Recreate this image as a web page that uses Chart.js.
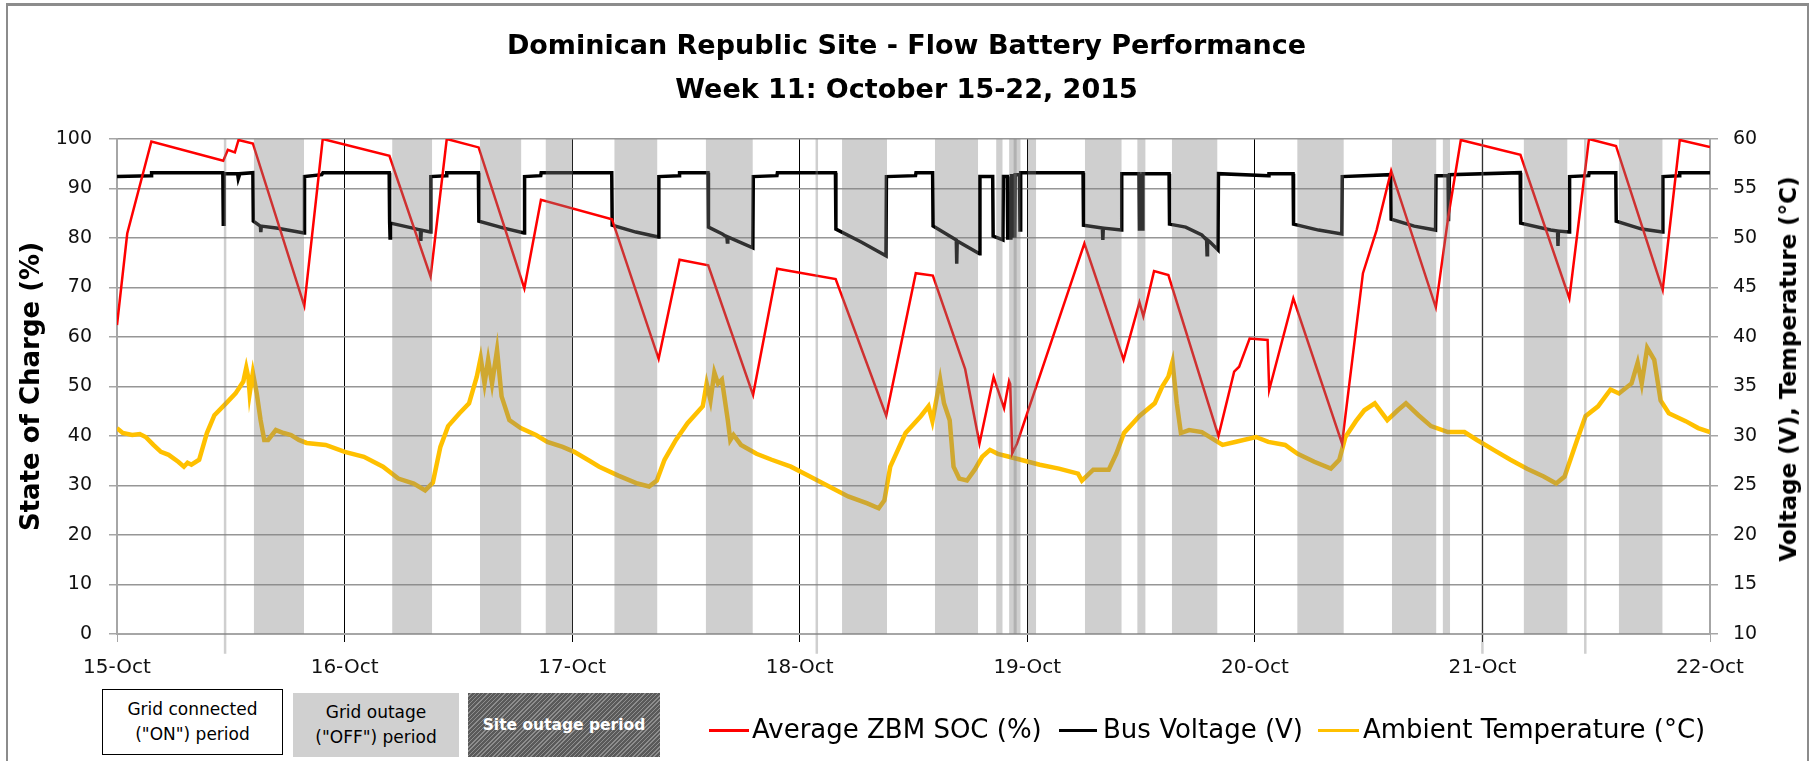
<!DOCTYPE html>
<html><head><meta charset="utf-8">
<script src="https://cdn.jsdelivr.net/npm/chart.js@4.4.0/dist/chart.umd.min.js"></script>
<style>
html,body{margin:0;padding:0;background:#fff;overflow:hidden;}
#wrap{position:relative;width:1813px;height:761px;}
#frame{position:absolute;left:6px;top:3px;width:1803px;height:800px;border:2px solid #8c8c8c;border-top-width:3px;box-sizing:border-box;pointer-events:none;}
.box{position:absolute;box-sizing:border-box;display:flex;flex-direction:column;justify-content:center;align-items:center;font-family:'DejaVu Sans';font-size:17px;line-height:25px;color:#000;text-align:center;}
#b1{left:102px;top:689px;width:181px;height:66px;border:1.5px solid #000;background:#fff;}
#b2{left:293px;top:693px;width:166px;height:64px;background:#d0d0d0;}
#b3{left:468px;top:693px;width:192px;height:64px;color:#fff;font-weight:bold;font-size:15.5px;
  background:repeating-linear-gradient(135deg,#5a5a5a 0px,#5a5a5a 2px,#8e8e8e 2px,#8e8e8e 3px);}
.sw{position:absolute;height:3px;top:729px;}
.lt{position:absolute;top:714px;font-family:'DejaVu Sans';font-size:26px;line-height:30px;white-space:nowrap;color:#000;}
#rt{position:absolute;left:1788px;top:369px;transform:translate(-50%,-50%) rotate(-90deg);font-family:'DejaVu Sans';font-weight:bold;font-size:23px;white-space:nowrap;color:#000;}
</style></head>
<body>
<div id="wrap">
  <canvas id="c" width="1813" height="761"></canvas>
  <div id="rt">Voltage (V), Temperature (°C)</div>
  <div class="box" id="b1"><div>Grid connected</div><div>("ON") period</div></div>
  <div class="box" id="b2"><div>Grid outage</div><div>("OFF") period</div></div>
  <div class="box" id="b3"><div>Site outage period</div></div>
  <div class="sw" style="left:709px;width:40px;background:#ff0000"></div>
  <div class="lt" style="left:752px">Average ZBM SOC (%)</div>
  <div class="sw" style="left:1059px;width:38px;background:#000"></div>
  <div class="lt" style="left:1103px">Bus Voltage (V)</div>
  <div class="sw" style="left:1318px;width:41px;background:#ffc000"></div>
  <div class="lt" style="left:1363px">Ambient Temperature (°C)</div>
  <div id="frame"></div>
</div>
<script>
const dayLabels = ['15-Oct','16-Oct','17-Oct','18-Oct','19-Oct','20-Oct','21-Oct','22-Oct'];

const socDays = [0.000,0.045,0.151,0.467,0.487,0.518,0.534,0.597,0.823,0.904,1.197,1.378,1.449,1.589,1.790,1.863,2.175,2.380,2.472,2.598,2.795,2.901,3.158,3.380,3.510,3.585,3.727,3.790,3.852,3.898,3.920,3.925,3.934,3.955,4.251,4.423,4.493,4.510,4.557,4.620,4.840,4.909,4.931,4.977,5.056,5.063,5.169,5.383,5.475,5.535,5.599,5.795,5.850,5.905,6.167,6.382,6.468,6.587,6.792,6.867,7.000];
const socValues = [62.4,80.9,99.5,95.6,97.8,97.3,99.8,99.1,66.3,100.0,96.6,72.2,100.0,98.3,69.8,87.7,83.8,55.6,75.6,74.5,48.3,73.8,71.7,44.1,72.9,72.4,53.5,38.5,51.9,45.6,51.1,50.5,36.5,38.5,78.9,55.4,67.0,64.2,73.3,72.5,40.0,53.0,54.0,59.7,59.4,49.3,67.8,38.5,72.9,81.6,93.6,66.0,84.3,99.8,96.8,67.8,100.0,98.6,69.5,99.8,98.4];

const voltDays = [0.000,0.150,0.152,0.465,0.467,0.470,0.530,0.533,0.540,0.597,0.599,0.630,0.632,0.634,0.700,0.822,0.824,0.900,0.905,1.196,1.198,1.200,1.202,1.300,1.333,1.335,1.337,1.377,1.379,1.447,1.449,1.588,1.590,1.700,1.789,1.791,1.862,1.864,2.174,2.176,2.280,2.379,2.381,2.470,2.472,2.597,2.599,2.660,2.680,2.682,2.684,2.794,2.796,2.900,2.902,3.157,3.159,3.270,3.379,3.381,3.509,3.511,3.584,3.586,3.688,3.690,3.692,3.790,3.792,3.848,3.850,3.893,3.895,3.912,3.914,3.928,3.930,3.938,3.940,3.945,3.947,3.966,3.968,3.971,4.245,4.247,4.330,4.332,4.334,4.413,4.415,4.491,4.493,4.506,4.508,4.623,4.625,4.696,4.767,4.788,4.790,4.792,4.803,4.838,4.840,5.060,5.062,5.168,5.170,5.280,5.382,5.384,5.597,5.599,5.700,5.794,5.796,5.849,5.851,5.855,6.166,6.168,6.300,6.330,6.332,6.334,6.381,6.383,6.467,6.469,6.586,6.588,6.700,6.791,6.793,6.865,6.867,7.000];
const voltValues = [56.2,56.3,56.6,56.6,51.4,56.5,56.5,56.0,56.5,56.6,51.7,51.2,50.6,51.2,51.0,50.5,56.2,56.4,56.6,56.6,51.6,50.0,51.5,51.0,50.8,49.7,50.8,50.6,56.2,56.3,56.6,56.6,51.7,51.0,50.5,56.2,56.3,56.6,56.6,51.3,50.6,50.1,56.2,56.3,56.6,56.6,51.1,50.4,50.1,49.6,50.1,49.0,56.2,56.3,56.6,56.6,50.9,49.6,48.2,56.2,56.3,56.6,56.6,51.2,49.8,47.4,49.7,48.4,56.2,56.2,50.2,49.8,56.2,56.2,50.0,50.0,56.3,56.3,50.2,50.2,56.4,56.4,50.8,56.6,56.6,51.3,51.0,49.8,51.0,50.8,56.5,56.5,50.9,50.9,56.5,56.5,51.4,51.1,50.3,49.8,48.3,49.8,49.6,48.8,56.5,56.3,56.5,56.5,51.4,50.8,50.4,56.2,56.4,51.9,51.2,50.8,56.3,56.3,51.7,56.4,56.6,51.5,50.8,50.7,49.2,50.7,50.6,56.2,56.3,56.6,56.6,51.7,50.9,50.6,56.2,56.3,56.6,56.6];

const tempDays = [0.000,0.025,0.067,0.100,0.126,0.160,0.193,0.227,0.269,0.294,0.310,0.327,0.361,0.395,0.428,0.479,0.521,0.555,0.568,0.578,0.583,0.597,0.614,0.631,0.647,0.664,0.698,0.732,0.765,0.799,0.833,0.917,1.001,1.085,1.169,1.236,1.304,1.354,1.388,1.421,1.455,1.505,1.547,1.581,1.598,1.615,1.631,1.648,1.670,1.690,1.724,1.774,1.841,1.891,1.958,2.009,2.076,2.119,2.203,2.287,2.338,2.372,2.406,2.456,2.507,2.574,2.591,2.608,2.625,2.641,2.658,2.684,2.695,2.709,2.742,2.810,2.877,2.961,3.045,3.129,3.213,3.297,3.347,3.372,3.398,3.465,3.532,3.566,3.583,3.617,3.634,3.659,3.676,3.701,3.735,3.769,3.802,3.836,3.870,3.920,3.971,4.055,4.139,4.223,4.240,4.290,4.358,4.391,4.425,4.492,4.560,4.593,4.620,4.638,4.657,4.675,4.711,4.767,4.822,4.858,4.913,5.005,5.059,5.133,5.188,5.261,5.334,5.371,5.398,5.444,5.481,5.527,5.582,5.628,5.664,5.719,5.774,5.848,5.921,5.976,6.049,6.123,6.196,6.269,6.324,6.361,6.416,6.453,6.508,6.563,6.600,6.655,6.682,6.700,6.724,6.755,6.783,6.819,6.893,6.948,7.000];
const tempValues = [30.8,30.3,30.1,30.2,29.9,29.1,28.4,28.1,27.4,26.9,27.3,27.1,27.6,30.3,32.1,33.3,34.3,35.5,36.9,35.8,34.3,36.4,34.3,31.6,29.6,29.6,30.6,30.3,30.1,29.6,29.3,29.1,28.4,27.9,26.9,25.7,25.2,24.5,25.3,28.9,31.0,32.3,33.3,36.0,37.9,35.3,37.7,35.3,38.7,34.0,31.6,30.8,30.1,29.4,28.9,28.4,27.5,26.9,26.0,25.2,24.9,25.5,27.6,29.6,31.3,33.0,35.3,33.6,36.4,35.3,35.7,31.6,29.6,30.1,29.1,28.2,27.6,26.9,25.9,24.9,23.9,23.2,22.7,23.5,26.9,30.3,32.0,33.0,31.5,35.7,33.3,31.6,26.9,25.7,25.5,26.6,27.9,28.6,28.2,27.9,27.6,27.1,26.7,26.2,25.5,26.6,26.6,28.2,30.3,32.0,33.3,35.0,36.0,37.5,33.3,30.3,30.6,30.4,29.6,29.1,29.4,29.9,29.4,29.1,28.2,27.4,26.7,27.6,29.9,31.5,32.6,33.3,31.6,32.6,33.3,32.1,31.0,30.4,30.4,29.6,28.6,27.6,26.7,25.9,25.2,25.9,29.6,32.0,33.0,34.7,34.3,35.3,37.4,35.3,38.9,37.7,33.6,32.3,31.5,30.8,30.4];

const outageStart = [0.601,1.209,1.595,1.883,2.185,2.587,3.186,3.594,3.863,3.920,4.001,4.253,4.483,4.635,5.186,5.602,5.825,6.181,6.599];
const outageEnd   = [0.822,1.385,1.777,2.003,2.375,2.794,3.384,3.784,3.892,3.971,4.039,4.415,4.520,4.836,5.391,5.798,5.858,6.374,6.792];
const overlapStart = [3.939];
const overlapEnd = [3.954];
const markerDays = [0.475,3.075,6.000,6.452];

const OVER = 'rgba(128,128,128,0.38)';
const pts = (xs, ys) => xs.map((x, i) => ({x: x, y: ys[i]}));
function bars(s, e) {
  const out = [];
  s.forEach((a, i) => { out.push({x: a, y: 100}, {x: e[i], y: 100}, {x: e[i], y: null}); });
  return out;
}
function markers(ds) {
  const out = [];
  ds.forEach(d => { out.push({x: d, y: -4}, {x: d, y: 100}, {x: d, y: null}); });
  return out;
}

const FONT = 'DejaVu Sans';
const edgeGray = '#a6a6a6';

new Chart(document.getElementById('c'), {
  type: 'line',
  data: {
    datasets: [
      {label: 'Grid outage', data: bars(outageStart, outageEnd), yAxisID: 'y', order: 0,
       borderWidth: 0, borderColor: 'rgba(0,0,0,0)', backgroundColor: OVER, fill: 'origin', pointRadius: 0, spanGaps: false},
      {label: 'Grid outage overlap', data: bars(overlapStart, overlapEnd), yAxisID: 'y', order: 0,
       borderWidth: 0, borderColor: 'rgba(0,0,0,0)', backgroundColor: OVER, fill: 'origin', pointRadius: 0, spanGaps: false},
      {label: 'Short outage', data: markers(markerDays), yAxisID: 'y', order: 1,
       borderWidth: 2.5, borderColor: OVER, pointRadius: 0, spanGaps: false, clip: false, fill: false},
      {label: 'Average ZBM SOC (%)', data: pts(socDays, socValues), yAxisID: 'y', order: 2,
       borderColor: '#ff0000', borderWidth: 2.5, pointRadius: 0, tension: 0, fill: false},
      {label: 'Bus Voltage (V)', data: pts(voltDays, voltValues), yAxisID: 'y1', order: 3,
       borderColor: '#000000', borderWidth: 3.5, pointRadius: 0, tension: 0, fill: false},
      {label: 'Ambient Temperature (°C)', data: pts(tempDays, tempValues), yAxisID: 'y1', order: 4,
       borderColor: '#ffc000', borderWidth: 4.5, pointRadius: 0, tension: 0, fill: false}
    ]
  },
  options: {
    responsive: false,
    animation: false,
    events: [],
    layout: {padding: 0},
    plugins: {
      legend: {display: false},
      tooltip: {enabled: false},
      title: {
        display: true,
        text: ['Dominican Republic Site - Flow Battery Performance', 'Week 11: October 15-22, 2015'],
        color: '#000',
        font: {family: FONT, weight: 'bold', size: 27, lineHeight: '44px'},
        padding: {top: 25, bottom: 26}
      }
    },
    scales: {
      x: {
        type: 'linear', min: 0, max: 7,
        afterFit: s => { s.height = 127; },
        ticks: {stepSize: 1, autoSkip: false, maxRotation: 0, padding: 14, color: '#111',
          font: {family: FONT, size: 20},
          callback: v => dayLabels[v]},
        grid: {
          color: c => (c.tick && (c.tick.value === 0 || c.tick.value === 7)) ? edgeGray : '#000',
          lineWidth: 1, tickLength: 8
        },
        border: {display: true, color: edgeGray, width: 2}
      },
      y: {
        position: 'left', min: 0, max: 100,
        afterFit: s => { s.width = 117; },
        ticks: {stepSize: 10, padding: 17, color: '#111', font: {family: FONT, size: 19}},
        grid: {color: '#969696', lineWidth: 1.5, tickLength: 8, tickColor: edgeGray},
        border: {display: true, color: edgeGray, width: 2},
        title: {display: true, text: 'State of Charge (%)', color: '#000',
          font: {family: FONT, weight: 'bold', size: 26}, padding: {top: 17, bottom: 0}}
      },
      y1: {
        position: 'right', min: 10, max: 60,
        afterFit: s => { s.width = 103; },
        ticks: {stepSize: 5, padding: 15, color: '#111', font: {family: FONT, size: 19}},
        grid: {drawOnChartArea: false, tickLength: 8, color: edgeGray, lineWidth: 1.5},
        border: {display: true, color: edgeGray, width: 2}
      }
    }
  }
});
</script>
</body></html>
